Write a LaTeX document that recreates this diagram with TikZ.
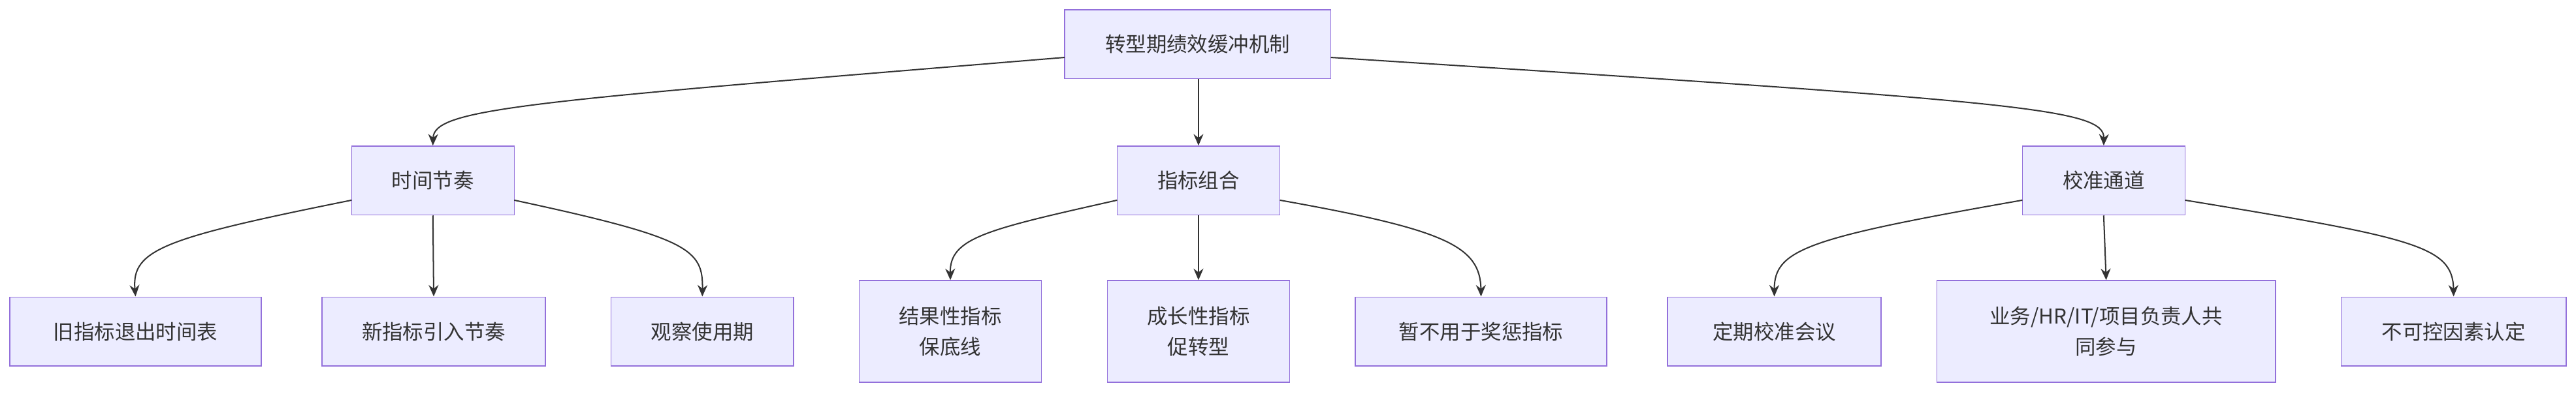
\documentclass[tikz,border=0pt]{standalone}
\usepackage{fontspec}
\setmainfont{Noto Sans CJK SC}
\usetikzlibrary{arrows.meta}
\definecolor{nfill}{HTML}{ECECFF}
\definecolor{nbord}{HTML}{9370DB}
\definecolor{edge}{HTML}{333333}
\begin{document}
\begin{tikzpicture}[x=1pt,y=-1pt,
  box/.style={draw=nbord,fill=nfill,line width=0.6pt,inner sep=0pt,align=center,font=\fontsize{12.5}{19}\selectfont,text=edge},
  ed/.style={draw=edge,line width=0.8pt,-{Stealth[length=7pt,width=6pt]}}]
\useasboundingbox (0,0) rectangle (1568,240);
\newcommand\bx[6]{\node[box,minimum width=#3-#2,minimum height=#5-#4] (#1) at ({(#2+#3)/2},{(#4+#5)/2}) {#6};}
\bx{r}{648}{810}{6}{48}{转型期绩效缓冲机制}
\bx{a}{214}{313}{89}{131}{时间节奏}
\bx{b}{680}{779}{89}{131}{指标组合}
\bx{c}{1231}{1330}{89}{131}{校准通道}
\bx{a1}{6}{159}{181}{223}{旧指标退出时间表}
\bx{a2}{196}{332}{181}{223}{新指标引入节奏}
\bx{a3}{372}{483}{181}{223}{观察使用期}
\bx{b1}{523}{634}{171}{233}{结果性指标\\保底线}
\bx{b2}{674}{785}{171}{233}{成长性指标\\促转型}
\bx{b3}{825}{978}{181}{223}{暂不用于奖惩指标}
\bx{c1}{1015}{1145}{181}{223}{定期校准会议}
\bx{c2}{1179}{1385}{171}{233}{业务/HR/IT/项目负责人共\\同参与}
\bx{c3}{1425}{1562}{181}{223}{不可控因素认定}
\draw[ed] (648,35) .. controls (320,62) and (264,66) .. (a.north);
\draw[ed] (r.south -| b) -- (b.north);
\draw[ed] (810,35) .. controls (1230,62) and (1281,66) .. (c.north);
\draw[ed] (214,122) .. controls (100,145) and (80,152) .. (a1.north);
\draw[ed] (a.south) -- (a2.north);
\draw[ed] (313,122) .. controls (420,145) and (428,152) .. (a3.north);
\draw[ed] (680,122) .. controls (600,140) and (578,145) .. (b1.north);
\draw[ed] (b.south) -- (b2.north);
\draw[ed] (779,122) .. controls (880,140) and (901,150) .. (b3.north);
\draw[ed] (1231,122) .. controls (1100,145) and (1080,152) .. (c1.north);
\draw[ed] (c.south) -- (c2.north);
\draw[ed] (1330,122) .. controls (1470,145) and (1493,150) .. (c3.north);
\end{tikzpicture}
\end{document}
